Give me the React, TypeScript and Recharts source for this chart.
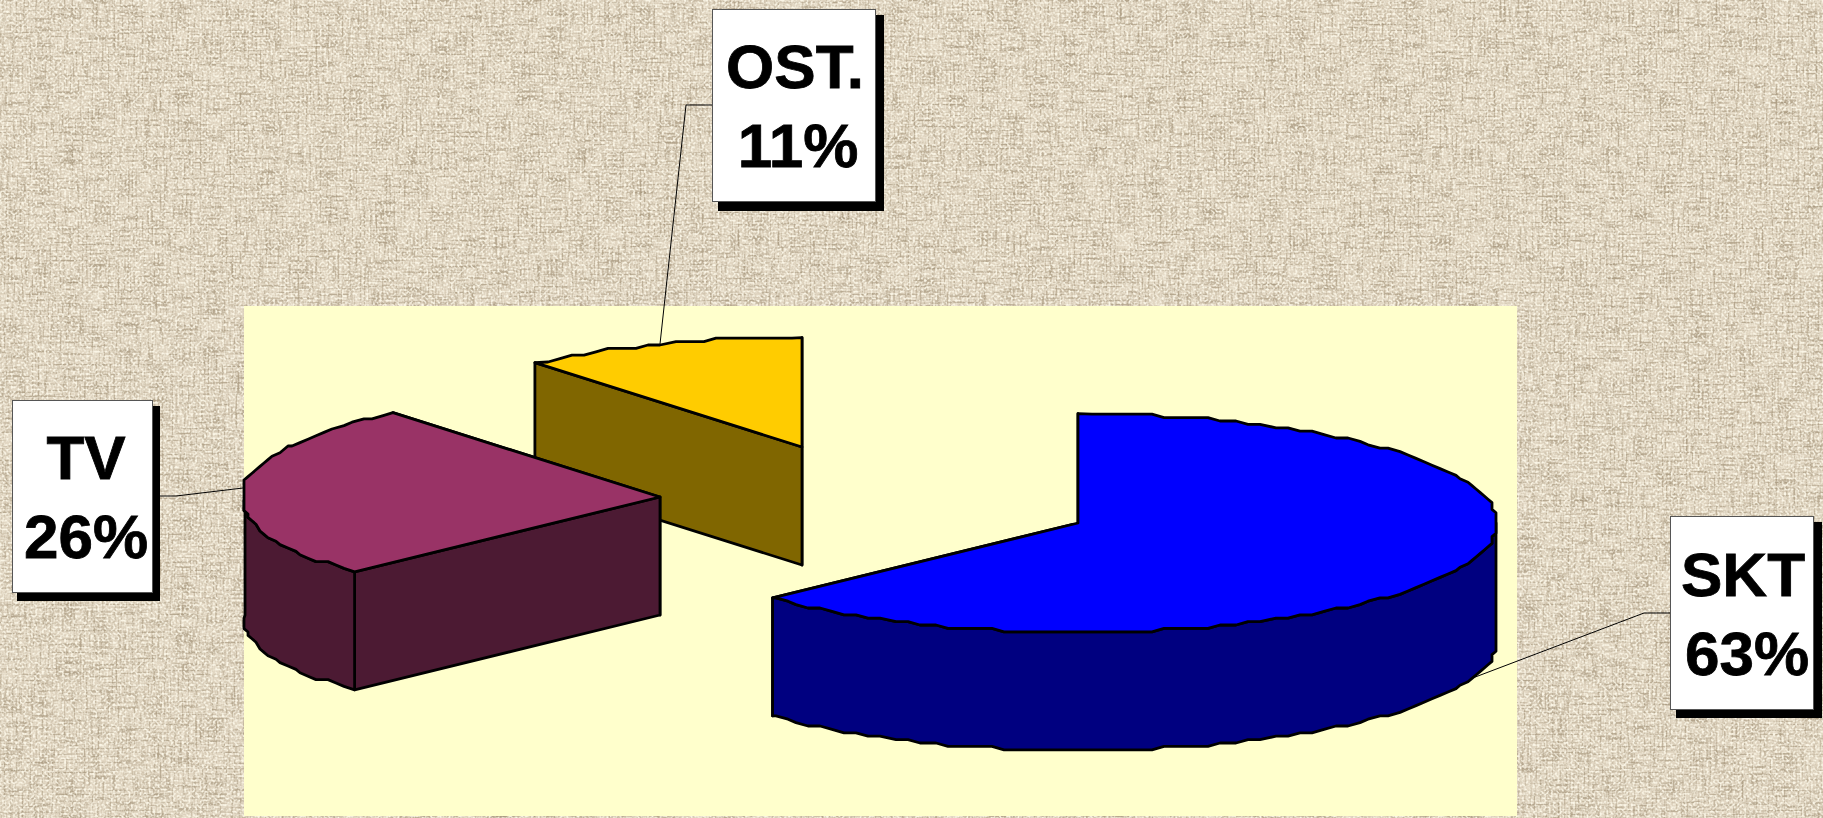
import { Pie, PieChart } from "recharts";

const categories = ["OST.", "SKT", "TV"];
const shares = [11, 63, 26];

const topColors: Record<string, string> = { "OST.": "#ffcc00", SKT: "#0000ff", TV: "#993366" };
const sideColors: Record<string, string> = { "OST.": "#806600", SKT: "#000080", TV: "#4c1a33" };

// how far each slice is pulled away from the pie centre
const explode: Record<string, { dx: number; dy: number }> = {
  "OST.": { dx: -276, dy: -76 },
  SKT: { dx: 0, dy: 0 },
  TV: { dx: -418, dy: -26 },
};

// callout box, its shadow, text baselines and leader line
const callouts: Record<string, any> = {
  "OST.": { x: 712, y: 9, w: 163, h: 192, sx: 718, sy: 15, sw: 166, sh: 196, tx: [795, 798], ty: [88, 167], leader: "712,105 686,105 660,344" },
  SKT: { x: 1670, y: 516, w: 143, h: 193, sx: 1676, sy: 522, sw: 146, sh: 196, tx: [1743, 1747], ty: [596, 675], leader: "1670,613 1644,613 1470,679" },
  TV: { x: 12, y: 400, w: 140, h: 192, sx: 17, sy: 406, sw: 143, sh: 195, tx: [86, 86], ty: [479, 558], leader: "160,496 176,496 243,488" },
};

const pieData = categories.map((name, i) => ({ name, value: shares[i] }));

const SQUASH = 0.261;
const DEPTH = 118;
const RAD = Math.PI / 180;
// the pie is cut off at the sides of the plot area
const MIN_X = 245;
const MAX_X = 1496;

function ellipsePoint(cx: number, cy: number, r: number, angle: number, snap = true) {
  const x = r * Math.cos(angle * RAD);
  const y = -r * SQUASH * Math.sin(angle * RAD);
  const px = Math.min(MAX_X, Math.max(MIN_X, cx + x));
  // the source picture has a stair-stepped outline
  if (!snap) return [px, cy + y];
  return [Math.round(px / 4) * 4, cy + Math.round(y / 3.4) * 3.4];
}

function arcPoints(cx: number, cy: number, r: number, from: number, to: number) {
  const pts = [ellipsePoint(cx, cy, r, from, false)];
  for (let a = from - 2; a > to; a -= 2) pts.push(ellipsePoint(cx, cy, r, a));
  pts.push(ellipsePoint(cx, cy, r, to, false));
  return pts;
}

const toPath = (pts: number[][]) => pts.map((p, i) => `${i ? "L" : "M"}${p[0].toFixed(1)} ${p[1].toFixed(1)}`).join(" ") + " Z";
const drop = (pts: number[][]) => pts.map((p) => [p[0], p[1] + DEPTH]);

function Slice3D(props: any) {
  const { name, outerRadius, startAngle, endAngle } = props;
  const cx = props.cx + explode[name].dx;
  const cy = props.cy + explode[name].dy;
  const top = topColors[name];
  const side = sideColors[name];
  const stroke = { stroke: "#000", strokeWidth: 2.8, strokeLinejoin: "round" as const };

  const apex = [cx, cy];
  const first = ellipsePoint(cx, cy, outerRadius, startAngle, false);
  const last = ellipsePoint(cx, cy, outerRadius, endAngle, false);
  // far cut face goes down first so the near one covers it
  const faces = [first, last].sort((a, b) => a[1] - b[1]);
  const wallFrom = Math.min(startAngle, 0);
  const wallTo = Math.max(endAngle, -180);
  const wall = wallFrom > wallTo ? arcPoints(cx, cy, outerRadius, wallFrom, wallTo) : null;

  return (
    <g>
      {faces.map((tip, i) => (
        <path key={i} d={toPath([apex, tip, ...drop([tip, apex])])} fill={side} {...stroke} />
      ))}
      {wall && <path d={toPath([...wall, ...drop(wall).reverse()])} fill={side} {...stroke} />}
      <path d={toPath([apex, ...arcPoints(cx, cy, outerRadius, startAngle, endAngle)])} fill={top} {...stroke} />
    </g>
  );
}

function Callout(props: any) {
  const c = callouts[props.name];
  const text = {
    fontFamily: "'Liberation Sans', Arial, sans-serif",
    fontWeight: 700,
    fontSize: 62,
    fill: "#000",
    stroke: "#000",
    strokeWidth: 0.8,
    textAnchor: "middle" as const,
  };
  return (
    <g>
      <polyline points={c.leader} fill="none" stroke="#000" strokeWidth={1} />
      <rect x={c.sx} y={c.sy} width={c.sw} height={c.sh} fill="#000" />
      <rect x={c.x + 0.5} y={c.y + 0.5} width={c.w} height={c.h} fill="#fff" stroke="#555" strokeWidth={1} />
      <text x={c.tx[0]} y={c.ty[0]} {...text}>{props.name}</text>
      <text x={c.tx[1]} y={c.ty[1]} {...text}>{`${props.value}%`}</text>
    </g>
  );
}

function Burlap() {
  return (
    <svg width={1823} height={818} style={{ position: "absolute", left: 0, top: 0 }}>
      <defs>
        <filter id="weaveH" x="0" y="0" width="100%" height="100%" colorInterpolationFilters="sRGB">
          <feTurbulence type="fractalNoise" baseFrequency="0.035 0.5" numOctaves={1} seed={4} />
          <feColorMatrix values="0 0 0 0 0.66  0 0 0 0 0.60  0 0 0 0 0.50  2.6 0 0 0 -1.2" />
        </filter>
        <filter id="weaveV" x="0" y="0" width="100%" height="100%" colorInterpolationFilters="sRGB">
          <feTurbulence type="fractalNoise" baseFrequency="0.5 0.035" numOctaves={1} seed={9} />
          <feColorMatrix values="0 0 0 0 0.68  0 0 0 0 0.62  0 0 0 0 0.52  2.6 0 0 0 -1.2" />
        </filter>
        <filter id="weaveL" x="0" y="0" width="100%" height="100%" colorInterpolationFilters="sRGB">
          <feTurbulence type="fractalNoise" baseFrequency="0.45 0.45" numOctaves={1} seed={15} />
          <feColorMatrix values="0 0 0 0 0.98  0 0 0 0 0.96  0 0 0 0 0.90  3.4 0 0 0 -1.45" />
        </filter>
      </defs>
      <rect width={1823} height={818} fill="#e2d7c3" />
      <rect width={1823} height={818} filter="url(#weaveH)" />
      <rect width={1823} height={818} filter="url(#weaveV)" />
      <rect width={1823} height={818} filter="url(#weaveL)" />
      <rect x={244} y={306} width={1273} height={510} fill="#ffffcc" />
    </svg>
  );
}

export default function App() {
  return (
    <div style={{ position: "absolute", left: 0, top: 0, width: 1823, height: 818, overflow: "hidden" }}>
      <Burlap />
      <div style={{ position: "absolute", left: 0, top: 0 }}>
        <PieChart width={1823} height={818} margin={{ top: 0, right: 0, bottom: 0, left: 0 }}>
          <Pie
            data={pieData}
            dataKey="value"
            nameKey="name"
            cx={1078}
            cy={523}
            innerRadius={0}
            outerRadius={419}
            startAngle={90 + (360 * shares[0]) / 100}
            endAngle={90 + (360 * shares[0]) / 100 - 360}
            stroke="none"
            shape={Slice3D}
            label={Callout}
            labelLine={false}
            isAnimationActive={false}
          />
        </PieChart>
      </div>
    </div>
  );
}
